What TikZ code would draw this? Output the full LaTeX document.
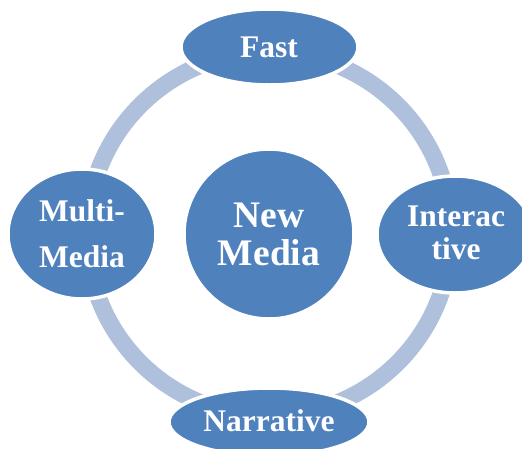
\documentclass[tikz,border=0pt]{standalone}
\usepackage{fontspec}
\setmainfont{Liberation Serif}
\usetikzlibrary{shapes.geometric}
\definecolor{nodeblue}{HTML}{4F81BD}
\definecolor{ringblue}{HTML}{AFC0DC}
\tikzset{
  bubble/.style={ellipse, fill=nodeblue, draw=white, line width=3.5pt, inner sep=0pt},
  outertext/.style={anchor=base, text=white, inner sep=0pt, font=\fontsize{31.5}{31.5}\selectfont\bfseries},
  centertext/.style={anchor=base, text=white, inner sep=0pt, font=\fontsize{37.5}{37.5}\selectfont\bfseries},
  ring/.style={draw=ringblue, line width=17pt}
}
\begin{document}
\begin{tikzpicture}[x=1pt,y=-1pt]
\useasboundingbox (0,0) rectangle (522,448);
\coordinate (c) at (269,234);
\draw[ring] (c) circle[radius=182];
\node[bubble, circle, minimum size=170pt] (center) at (269,234) {};
\node[bubble, minimum width=177pt, minimum height=76pt] (fast) at (269.5,47) {};
\node[bubble, minimum width=148pt, minimum height=130pt] (multi) at (82,234) {};
\node[bubble, minimum width=156pt, minimum height=117pt] (inter) at (455,234.5) {};
\node[bubble, minimum width=200pt, minimum height=68pt] (narr) at (269,422) {};
\node[outertext] (tfast) at (269,57) {Fast};
\node[centertext] (tnew) at (269,227) {New};
\node[centertext] (tmedia) at (269,265) {Media};
\node[outertext] (tmulti) at (82,221) {Multi-};
\node[outertext] (tmmedia) at (82,267) {Media};
\node[outertext] (tinter) at (456,226) {Interac};
\node[outertext] (ttive) at (456,259) {tive};
\node[outertext] (tnarr) at (269,431) {Narrative};
\end{tikzpicture}
\end{document}
